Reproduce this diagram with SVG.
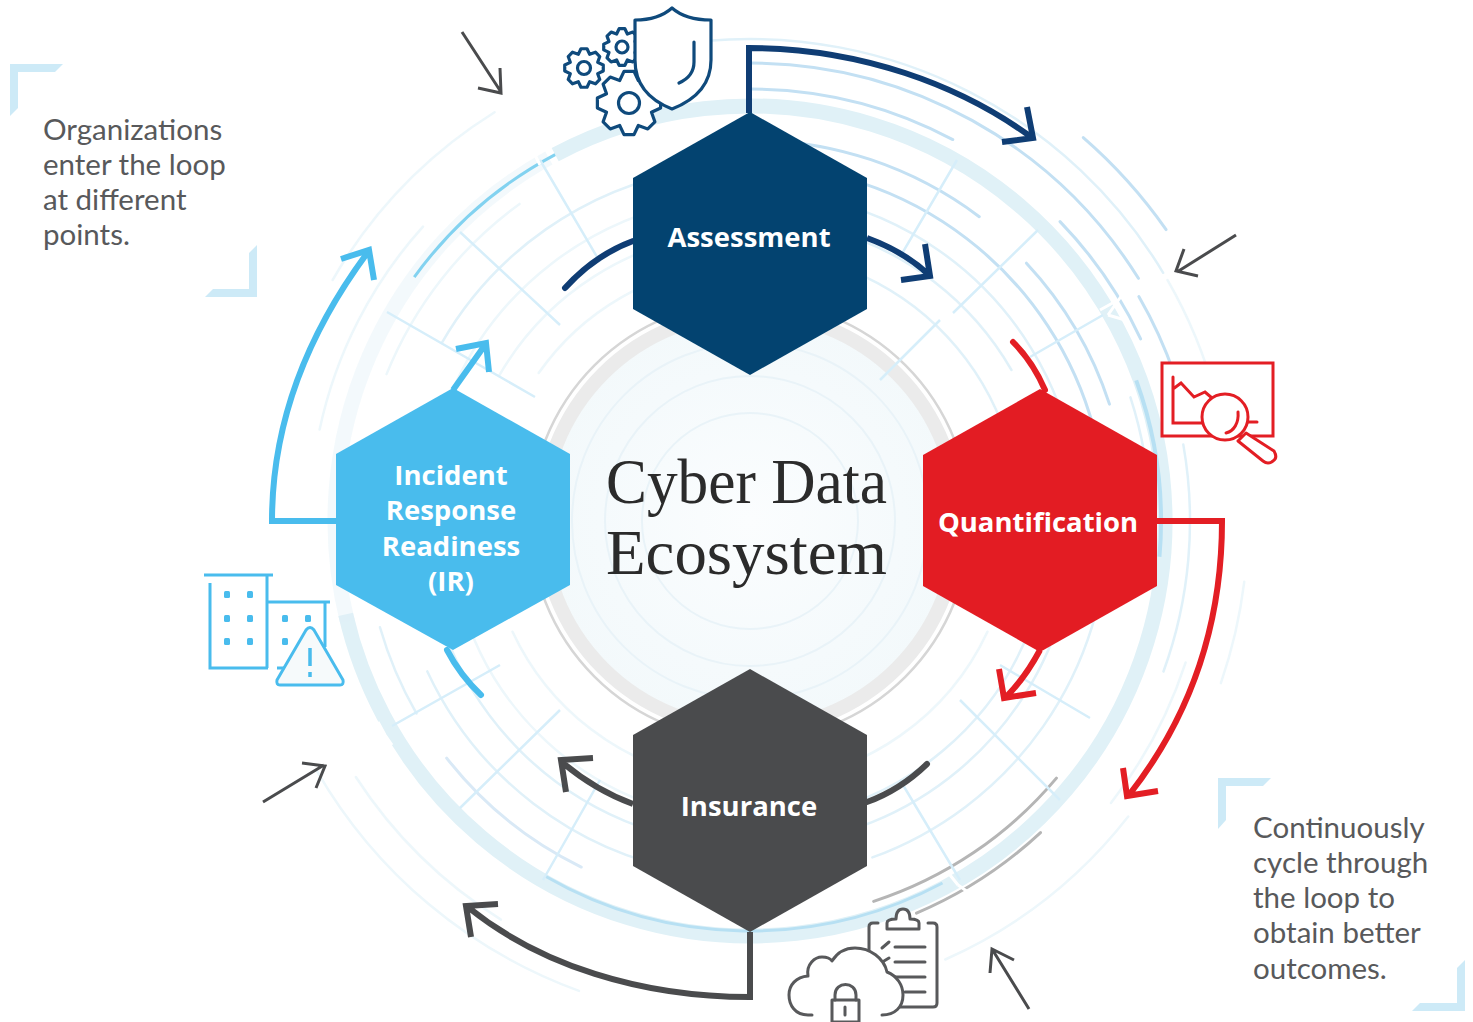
<svg xmlns="http://www.w3.org/2000/svg" xmlns:xlink="http://www.w3.org/1999/xlink" width="1473" height="1022" viewBox="0 0 1473 1022">
<style>
.a,.b,.c,.t,.g1{fill:none;stroke-linecap:round}
.a{stroke:#c3e0f3;stroke-width:3}
.b{stroke:#e0f1f9;stroke-width:2.5}
.c{stroke:#edf7fb;stroke-width:2.5}
.t{stroke:#e0f1f7;stroke-width:15;stroke-linecap:butt}
.g1{stroke:#b0b0b0;stroke-width:3}
.r{stroke:#d6eefa;stroke-width:2.5;fill:none}
.br{fill:#cdeaf7}
.note{font:29.5px "Lato","Open Sans",sans-serif;fill:#58595b}
.hl{font:bold 27.5px "Open Sans","Lato",sans-serif;fill:#fff;text-anchor:middle}
.title{font:63px "Liberation Serif","DejaVu Serif",serif;fill:#2b2b2b}
.con{fill:none;stroke-linejoin:miter;stroke-linecap:butt}
.navy{stroke:#0f3d74;stroke-width:6}
.red{stroke:#e31e24;stroke-width:6}
.dark{stroke:#4a4b4d;stroke-width:6}
.sky{stroke:#49bced;stroke-width:6}
.sm{fill:none;stroke:#4a4b4d;stroke-width:3}
.inav{fill:#fff;stroke:#0f4a7c;stroke-width:3.2;stroke-linejoin:round;stroke-linecap:round}
.ired{fill:#fff;stroke:#e31e24;stroke-width:3;stroke-linecap:round}
.isky{fill:none;stroke:#49bced;stroke-width:3}
.idk{fill:#fff;stroke:#58595b;stroke-width:3;stroke-linecap:round;stroke-linejoin:round}
</style>
<defs>
<radialGradient id="disc"><stop offset="0" stop-color="#fbfdfe"/><stop offset="0.7" stop-color="#f5fafc"/><stop offset="1" stop-color="#f3f9fb"/></radialGradient>
<path id="gear" vector-effect="non-scaling-stroke" d="M9.88-1.56 9.88 1.56 7.02 2.91 8.09 5.88 5.88 8.09 2.91 7.02 1.56 9.88-1.56 9.88-2.91 7.02-5.88 8.09-8.09 5.88-7.02 2.91-9.88 1.56-9.88-1.56-7.02-2.91-8.09-5.88-5.88-8.09-2.91-7.02-1.56-9.88 1.56-9.88 2.91-7.02 5.88-8.09 8.09-5.88 7.02-2.91Z"/>
</defs>

<g id="background">
<circle cx="750" cy="521" r="214" fill="url(#disc)"/>
<g fill="none" stroke="#e9f3f8" stroke-width="2">
<circle cx="750" cy="521" r="108"/><circle cx="750" cy="521" r="145"/><circle cx="750" cy="521" r="178"/>
</g>
<circle cx="750" cy="521" r="208" fill="none" stroke="#ebebeb" stroke-width="14"/>
<circle cx="750" cy="521" r="220" fill="none" stroke="#d6d6d6" stroke-width="2.5"/>
<g>
<circle class="t" pathLength="360" cx="750" cy="521" r="415" stroke-dasharray="285 360" transform="rotate(-118 750 521)"/>
<circle class="t" pathLength="360" cx="750" cy="521" r="415" stroke-dasharray="75 360" transform="rotate(166 750 521)" style="opacity:.4"/>

<circle class="a" pathLength="360" cx="750" cy="521" r="508" stroke-dasharray="14 360" transform="rotate(-49 750 521)"/>
<circle class="b" pathLength="360" cx="750" cy="521" r="482" stroke-dasharray="64 360" transform="rotate(-95 750 521)"/>
<circle class="c" pathLength="360" cx="750" cy="521" r="482" stroke-dasharray="15 360" transform="rotate(-30 750 521)"/>
<circle class="a" pathLength="360" cx="750" cy="521" r="458" stroke-dasharray="58 360" transform="rotate(-90 750 521)"/>
<circle class="a" pathLength="360" cx="750" cy="521" r="449" stroke-dasharray="11 360" transform="rotate(-30 750 521)"/>
<circle class="a" pathLength="360" cx="750" cy="521" r="431" stroke-dasharray="19 360" transform="rotate(-44 750 521)"/>
<circle class="a" pathLength="360" cx="750" cy="521" r="432" stroke-dasharray="28 360" transform="rotate(-90 750 521)"/>
<circle class="a" pathLength="360" cx="750" cy="521" r="381" stroke-dasharray="37 360" transform="rotate(-90 750 521)"/>
<circle class="a" pathLength="360" cx="750" cy="521" r="378" stroke-dasharray="25 360" transform="rotate(-43 750 521)"/>
<circle class="a" pathLength="360" cx="750" cy="521" r="356" stroke-dasharray="75 360" transform="rotate(-90 750 521)"/>
<circle class="b" pathLength="360" cx="750" cy="521" r="330" stroke-dasharray="100 360" transform="rotate(-100 750 521)"/>
<circle class="b" pathLength="360" cx="750" cy="521" r="302" stroke-dasharray="45 360" transform="rotate(-75 750 521)"/>
<circle class="b" pathLength="360" cx="750" cy="521" r="270" stroke-dasharray="50 360" transform="rotate(-65 750 521)"/>

<circle class="b" pathLength="360" cx="750" cy="521" r="400" stroke-dasharray="22 360" transform="rotate(-18 750 521)"/>
<circle class="b" pathLength="360" cx="750" cy="521" r="358" stroke-dasharray="70 360" transform="rotate(0 750 521)"/>
<circle class="b" pathLength="360" cx="750" cy="521" r="325" stroke-dasharray="70 360" transform="rotate(15 750 521)"/>
<circle class="b" pathLength="360" cx="750" cy="521" r="300" stroke-dasharray="60 360" transform="rotate(20 750 521)"/>
<circle class="c" pathLength="360" cx="750" cy="521" r="262" stroke-dasharray="60 360" transform="rotate(25 750 521)"/>
<circle class="c" pathLength="360" cx="750" cy="521" r="498" stroke-dasharray="12 360" transform="rotate(7 750 521)"/>
<circle class="c" pathLength="360" cx="750" cy="521" r="458" stroke-dasharray="20 360" transform="rotate(18 750 521)"/>
<circle class="c" pathLength="360" cx="750" cy="521" r="480" stroke-dasharray="28 360" transform="rotate(38 750 521)"/>
<circle class="b" pathLength="360" cx="750" cy="521" r="440" stroke-dasharray="30 360" transform="rotate(-10 750 521)"/>

<circle class="g1" pathLength="360" cx="750" cy="521" r="400" stroke-dasharray="32 360" transform="rotate(40 750 521)" style="stroke:#b5b5b5"/>
<circle class="g1" pathLength="360" cx="750" cy="521" r="426" stroke-dasharray="20 360" transform="rotate(47 750 521)" style="stroke:#b5b5b5"/>

<circle class="c" pathLength="360" cx="750" cy="521" r="500" stroke-dasharray="40 360" transform="rotate(110 750 521)"/>
<circle class="c" pathLength="360" cx="750" cy="521" r="470" stroke-dasharray="25 360" transform="rotate(122 750 521)"/>
<circle class="a" pathLength="360" cx="750" cy="521" r="385" stroke-dasharray="26 360" transform="rotate(116 750 521)" style="stroke:#d9e9f6"/>
<circle class="b" pathLength="360" cx="750" cy="521" r="356" stroke-dasharray="55 360" transform="rotate(100 750 521)"/>
<circle class="b" pathLength="360" cx="750" cy="521" r="325" stroke-dasharray="50 360" transform="rotate(110 750 521)"/>
<circle class="c" pathLength="360" cx="750" cy="521" r="300" stroke-dasharray="60 360" transform="rotate(105 750 521)"/>
<circle class="b" pathLength="360" cx="750" cy="521" r="385" stroke-dasharray="14 360" transform="rotate(150 750 521)"/>
<circle class="c" pathLength="360" cx="750" cy="521" r="262" stroke-dasharray="55 360" transform="rotate(100 750 521)"/>

<circle class="c" pathLength="360" cx="750" cy="521" r="482" stroke-dasharray="28 360" transform="rotate(-150 750 521)"/>
<circle class="c" pathLength="360" cx="750" cy="521" r="440" stroke-dasharray="30 360" transform="rotate(-168 750 521)"/>
<circle class="c" pathLength="360" cx="750" cy="521" r="392" stroke-dasharray="32 360" transform="rotate(-158 750 521)"/>
<circle class="b" pathLength="360" cx="750" cy="521" r="356" stroke-dasharray="50 360" transform="rotate(-150 750 521)"/>
<circle class="c" pathLength="360" cx="750" cy="521" r="325" stroke-dasharray="55 360" transform="rotate(-155 750 521)"/>
<circle class="c" pathLength="360" cx="750" cy="521" r="290" stroke-dasharray="55 360" transform="rotate(-150 750 521)"/>
<circle class="c" pathLength="360" cx="750" cy="521" r="258" stroke-dasharray="50 360" transform="rotate(-145 750 521)"/>

<circle pathLength="360" cx="750" cy="521" r="415" fill="none" stroke="#82d2f0" stroke-width="3" stroke-dasharray="26 360" transform="rotate(-144 750 521)"/>
<circle pathLength="360" cx="750" cy="521" r="410" fill="none" stroke="#b7e0f3" stroke-width="3" stroke-dasharray="58 360" transform="rotate(62 750 521)"/>
<circle pathLength="360" cx="750" cy="521" r="411" fill="none" stroke="#b7e0f3" stroke-width="4" stroke-dasharray="25 360" transform="rotate(-20 750 521)"/>
</g>
<g>
<path class="r" d="M957 160 900 257M1038 230 953 313M940 320 880 380M1103 315 1030 357"/>
<path class="r" d="M1090 718 1000 665M1060 800 960 700M960 880 900 780"/>
<path class="r" d="M543 880 600 780M460 808 560 710M392 726 500 665"/>
<path class="r" d="M387 312 535 397M460 232 560 325M540 160 600 262"/>
<path fill="none" stroke="#fff" stroke-width="3" d="M1108 315 1122 295M1108 315 1125 320M1100 310 1118 300M535 155 545 148M535 155 540 165M385 735 378 722M385 735 392 745M958 885 950 875M958 885 968 892"/>
</g>
</g>

<g id="brackets">
<polygon class="br" points="10,64 63,64 55,72 18,72 18,108 10,116"/>
<polygon class="br" points="257,245 257,297 205,297 213,289 249,289 249,253"/>
<polygon class="br" points="1218,778 1271,778 1263,786 1226,786 1226,820 1218,829"/>
<polygon class="br" points="1465,960 1465,1011 1412,1011 1420,1003 1457,1003 1457,968"/>
</g>

<g id="connectors">
<path class="con navy" d="M749 113V48C860 48 960 85 1031 137M1002 142 1033 138 1027 107"/>
<path class="con navy" d="M867 238Q905 252 929 275M901 280 930 276 925 244"/>
<path class="con navy" style="stroke-linecap:round" d="M633 241Q595 255 565 288"/>
<path class="con red" style="stroke-linecap:round" d="M1013 342Q1033 362 1045 390"/>
<path class="con red" d="M1157 521H1222C1222 640 1180 730 1129 795M1123 768 1127 796 1158 791"/>
<path class="con red" d="M1040 650Q1025 678 1006 697M999 669 1004 698 1036 693"/>
<path class="con dark" style="stroke-linecap:round" d="M867 802Q900 790 927 764"/>
<path class="con dark" d="M633 804Q595 790 563 763M593 758 561 760 566 792"/>
<path class="con dark" d="M750 932V997C640 997 540 965 469 908M498 904 466 906 471 937"/>
<path class="con sky" d="M336 521H272C272 420 310 330 368 252M341 259 369 250 374 280"/>
<path class="con sky" d="M453 390 485 345M456 349 486 343 489 372"/>
<path class="con sky" style="stroke-linecap:round" d="M447 650Q460 675 481 695"/>
<path class="sm" d="M462 32 501 92M478 88 501 93 500 68"/>
<path class="sm" d="M1236 235 1177 272M1184 249 1176 271 1198 276"/>
<path class="sm" d="M263 802 324 765M302 763 325 766 316 788"/>
<path class="sm" d="M1029 1009 992 949M990 973 992 949 1014 960"/>
</g>

<g id="assessment">
<polygon fill="#034370" points="750,112 867,178 867,309 750,375 633,309 633,178"/>
<text class="hl" x="749" y="247">Assessment</text>
</g>
<g id="quantification">
<polygon fill="#e31c23" points="1040,389 1157,455 1157,586 1040,652 923,586 923,455"/>
<text class="hl" x="1038" y="532">Quantification</text>
</g>
<g id="insurance">
<polygon fill="#4a4b4d" points="750,669 867,735 867,866 750,932 633,866 633,735"/>
<text class="hl" x="749" y="816">Insurance</text>
</g>
<g id="incident-response">
<polygon fill="#49bced" points="453,388 570,454 570,585 453,650 336,585 336,454"/>
<text class="hl" x="451" y="485">Incident</text>
<text class="hl" x="451" y="520">Response</text>
<text class="hl" x="451" y="556">Readiness</text>
<text class="hl" x="451" y="591">(IR)</text>
</g>

<g id="center-title">
<text class="title" x="606" y="503" textLength="281" lengthAdjust="spacingAndGlyphs">Cyber Data</text>
<text class="title" x="606" y="574" textLength="281" lengthAdjust="spacingAndGlyphs">Ecosystem</text>
</g>

<g id="note-left">
<text class="note" x="43" y="140">Organizations</text>
<text class="note" x="43" y="175">enter the loop</text>
<text class="note" x="43" y="210">at different</text>
<text class="note" x="43" y="245">points.</text>
</g>
<g id="note-right">
<text class="note" x="1253" y="838">Continuously</text>
<text class="note" x="1253" y="873">cycle through</text>
<text class="note" x="1253" y="908">the loop to</text>
<text class="note" x="1253" y="943">obtain better</text>
<text class="note" x="1253" y="979">outcomes.</text>
</g>

<g id="icon-shield">
<g class="inav">
<use xlink:href="#gear" href="#gear" transform="translate(584 68) scale(1.95)"/>
<circle cx="584" cy="68" r="6.5"/>
<use xlink:href="#gear" href="#gear" transform="translate(622 47) scale(1.85)"/>
<circle cx="622" cy="47" r="6"/>
<use xlink:href="#gear" href="#gear" transform="translate(629 103) scale(3.2)"/>
<circle cx="629" cy="103" r="10.5"/>
<path d="M635 20C650 20 663 16 672 8 681 16 694 20 711 20V60C711 85 695 100 672 109 649 100 635 85 635 60Z"/>
<path fill="none" d="M694 42V62C694 72 688 79 679 83"/>
</g>
</g>
<g id="icon-chart">
<rect class="ired" x="1162" y="363" width="111" height="73" style="stroke-linecap:butt"/>
<path class="ired" style="fill:none" d="M1173 377V423H1204M1173 389 1181 383 1194 397 1205 392 1212 398M1248 422H1257"/>
<path class="ired" d="M1246 433 1274 451Q1278 458 1273 461 1268 465 1263 461L1238 441Z" style="stroke-linejoin:round"/>
<circle class="ired" cx="1225" cy="417" r="23"/>
<path class="ired" style="fill:none" d="M1238 412C1239 423 1234 431 1226 433"/>
</g>
<g id="icon-buildings">
<path class="isky" d="M204 575H273M210 583V668H268M267 575V668M267 602H330M325 602V647M277 668H287"/>
<g fill="#49bced">
<rect x="224" y="591" width="6" height="7" rx="1.5"/><rect x="247" y="591" width="6" height="7" rx="1.5"/>
<rect x="224" y="615" width="6" height="7" rx="1.5"/><rect x="247" y="615" width="6" height="7" rx="1.5"/>
<rect x="224" y="638" width="6" height="7" rx="1.5"/><rect x="247" y="638" width="6" height="7" rx="1.5"/>
<rect x="282" y="615" width="6" height="7" rx="1.5"/><rect x="305" y="615" width="6" height="7" rx="1.5"/>
<rect x="282" y="638" width="6" height="7" rx="1.5"/>
</g>
<path d="M306 630Q310 625 314 630L343 680Q344 685 340 685H280Q276 685 277 680Z" fill="#f6fafb" stroke="#49bced" stroke-width="3"/>
<path d="M310 648V666M310 672V677" stroke="#49bced" stroke-width="3.5" fill="none"/>
</g>
<g id="icon-cloud">
<path class="idk" d="M878 923H873Q869 923 869 927V1003Q869 1007 873 1007H933Q937 1007 937 1003V927Q937 923 933 923H928"/>
<path class="idk" d="M887 929V923Q887 919 896 919Q896 909 903 909Q910 909 910 919Q919 919 919 923V929Z"/>
<path class="idk" d="M895 947H925M895 962H925M895 977H925M905 992H925M882 948 889 942M884 961 889 958"/>
<path class="idk" d="M812 1015H808C795 1015 789 1005 789 995 789 985 796 977 808 976 806 964 815 957 822 957 826 957 830 958 832 961 837 953 845 948 855 948 870 948 884 958 887 972 897 976 903 985 903 995 903 1007 895 1015 882 1015"/>
<path class="idk" style="stroke-linecap:butt" d="M832 1000H859V1022H832Z"/>
<path class="idk" style="fill:none" d="M835 1000V995C835 981 856 981 856 995V1000M845 1007V1015"/>
</g>
</svg>
